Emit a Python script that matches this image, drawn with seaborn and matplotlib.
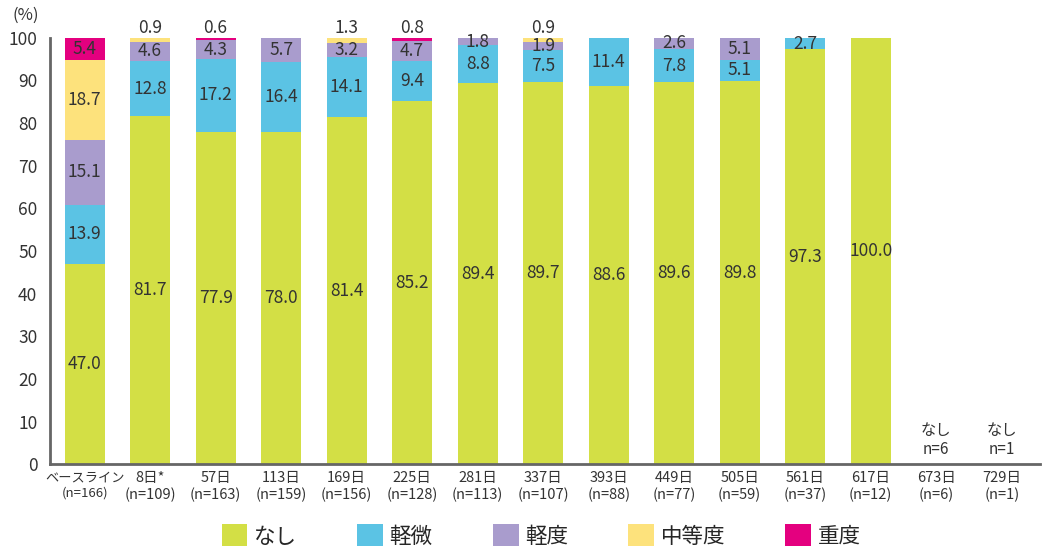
import numpy as np
import pandas as pd
import seaborn as sns
import matplotlib.pyplot as plt
from matplotlib.patches import Patch

sns.set_theme(style="white")
plt.rcParams['font.family'] = ['Noto Sans CJK JP', 'DejaVu Sans']

days = ["ベースライン", "8日*", "57日", "113日", "169日", "225日", "281日", "337日",
        "393日", "449日", "505日", "561日", "617日", "673日", "729日"]
n_counts = [166, 109, 163, 159, 156, 128, 113, 107, 88, 77, 59, 37, 12, 6, 1]

nashi = [47.0, 81.7, 77.9, 78.0, 81.4, 85.2, 89.4, 89.7, 88.6, 89.6, 89.8, 97.3, 100.0, 0, 0]
keibi = [13.9, 12.8, 17.2, 16.4, 14.1, 9.4, 8.8, 7.5, 11.4, 7.8, 5.1, 2.7, 0, 0, 0]
keido = [15.1, 4.6, 4.3, 5.7, 3.2, 4.7, 1.8, 1.9, 0, 2.6, 5.1, 0, 0, 0, 0]
chutoudo = [18.7, 0.9, 0, 0, 1.3, 0, 0, 0.9, 0, 0, 0, 0, 0, 0, 0]
judo = [5.4, 0, 0.6, 0, 0, 0.8, 0, 0, 0, 0, 0, 0, 0, 0, 0]

series = ["なし", "軽微", "軽度", "中等度", "重度"]
colors = ["#d3df45", "#5bc3e4", "#a99ccd", "#fde27c", "#e4007f"]

labels = [f"{d}\n(n={n})" for d, n in zip(days, n_counts)]
df = pd.DataFrame({"label": labels, "なし": nashi, "軽微": keibi, "軽度": keido,
                   "中等度": chutoudo, "重度": judo})
cum = df[series].cumsum(axis=1)

fig = plt.figure(figsize=(10.61, 5.48), dpi=100)
ax = fig.add_axes([0.047, 0.153, 0.933, 0.778])

# stacked bars: draw cumulative totals from the top segment down
for s, c in reversed(list(zip(series, colors))):
    sns.barplot(x=df["label"], y=cum[s], color=c, width=0.61, saturation=1,
                ax=ax, order=labels, linewidth=0)

# segment labels
for i in range(len(df)):
    base = 0
    for s in series:
        v = df[s].iloc[i]
        if v > 0:
            if v < 1.5:
                ax.text(i, 102.3, f"{v:.1f}", ha="center", va="center",
                        fontsize=12.5, color="#333333")
            else:
                ax.text(i, base + v / 2, f"{v:.1f}", ha="center", va="center",
                        fontsize=12.5, color="#333333")
        base += v
    if cum["重度"].iloc[i] == 0:
        ax.text(i, 1.5, f"なし\nn={n_counts[i]}", ha="center", va="bottom",
                fontsize=11, color="#333333", linespacing=1.1)

ax.set_xlim(-0.53, 14.58)
ax.set_ylim(0, 100)
ax.set_yticks(range(0, 101, 10))
ax.set_xlabel("")
ax.set_ylabel("")
ax.tick_params(axis="y", length=7, width=1.5, color="#666666", labelsize=12.5,
               labelcolor="#333333", pad=2)
ax.tick_params(axis="x", length=0, labelsize=10.5, labelcolor="#333333", pad=5)
ax.get_xticklabels()[0].set_fontsize(9.5)
for sp in ["top", "right"]:
    ax.spines[sp].set_visible(False)
for sp in ["left", "bottom"]:
    ax.spines[sp].set_color("#666666")
    ax.spines[sp].set_linewidth(2)
ax.spines["left"].set_bounds(0, 100)

fig.text(0.024, 0.972, "(%)", fontsize=12, color="#333333", ha="center", va="center")

handles = [Patch(facecolor=c, edgecolor="none", label=s) for s, c in zip(series, colors)]
fig.legend(handles=handles, loc="center", bbox_to_anchor=(0.51, 0.022), ncol=5,
           frameon=False, fontsize=15.5, handlelength=1.2, handleheight=1.2,
           handletextpad=0.3, columnspacing=2.8)

fig.savefig("out.png", dpi=100)
